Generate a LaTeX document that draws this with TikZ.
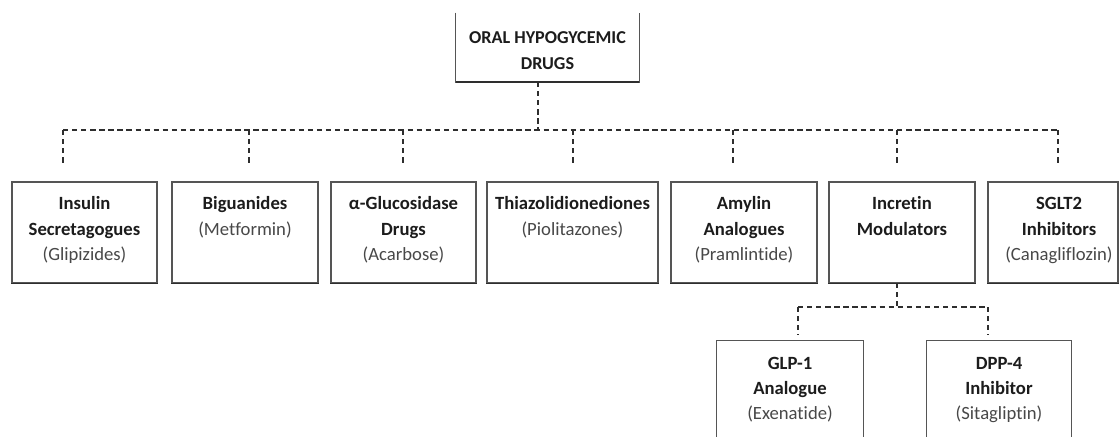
\documentclass[tikz,border=0pt]{standalone}
\usepackage{fontspec}
\setmainfont{Carlito}[Ligatures=NoCommon]
\definecolor{boxc}{HTML}{555555}
\definecolor{shadc}{HTML}{2E2E2E}
\definecolor{linec}{HTML}{2E2E2E}
\definecolor{boldc}{HTML}{1C1C1C}
\definecolor{regc}{HTML}{484848}
\newcommand{\bl}[1]{\textbf{\color{boldc}#1}}
\newcommand{\rg}[1]{{\color{regc}#1}}
\newcommand{\fst}{\rule{0pt}{11pt}}
\begin{document}
\begin{tikzpicture}[x=0.75pt,y=-0.75pt,
  rowbox/.style={draw=boxc, line width=0.8pt, rectangle, inner sep=0pt, minimum height=101*0.75pt},
  openbox/.style={rectangle, inner sep=0pt},
  lbl/.style={align=center, anchor=north, inner sep=0pt, font=\fontsize{14}{19.1}\selectfont, yshift=-10pt},
  conn/.style={draw=linec, line width=1.1pt, dash pattern=on 4pt off 2.8pt},
  edge/.style={draw=boxc, line width=0.8pt},
  shade/.style={draw=shadc, line width=1.3pt}]
\useasboundingbox (0,0) rectangle (1120,436);
\fill[white] (0,0) rectangle (1120,436);

% top box (open at top)
\node[openbox, minimum width=183*0.75pt, minimum height=69*0.75pt] (top) at (547.5,47.5) {};
\draw[edge] (top.north west) -- (top.south west) -- (top.south east) -- (top.north east);
\draw[shade] (top.south west) -- (top.south east);
\node[lbl, font=\fontsize{13.6}{20}\selectfont, yshift=-1.5pt] (toptxt) at (top.north) {\fst\bl{ORAL HYPOGYCEMIC}\\\bl{DRUGS}};

% row boxes
\node[rowbox, minimum width=145*0.75pt] (b1) at (84.5,232.5) {};
\node[rowbox, minimum width=146*0.75pt] (b2) at (245,232.5) {};
\node[rowbox, minimum width=145*0.75pt] (b3) at (403.5,232.5) {};
\node[rowbox, minimum width=171*0.75pt] (b4) at (572.5,232.5) {};
\node[rowbox, minimum width=146*0.75pt] (b5) at (744,232.5) {};
\node[rowbox, minimum width=146*0.75pt] (b6) at (902,232.5) {};
\node[rowbox, minimum width=130*0.75pt] (b7) at (1053,232.5) {};
\foreach \b in {b1,b2,b3,b4,b5,b6,b7}{\draw[shade] (\b.south west) -- (\b.south east);}

\node[lbl] (t1) at (b1.north) {\fst\bl{Insulin}\\\bl{Secretagogues}\\\rg{(Glipizides)}};
\node[lbl] (t2) at (b2.north) {\fst\bl{Biguanides}\\\rg{(Metformin)}};
\node[lbl] (t3) at (b3.north) {\fst\bl{α-Glucosidase}\\\bl{Drugs}\\\rg{(Acarbose)}};
\node[lbl] (t4) at (b4.north) {\fst\bl{Thiazolidionediones}\\\rg{(Piolitazones)}};
\node[lbl] (t5) at (b5.north) {\fst\bl{Amylin}\\\bl{Analogues}\\\rg{(Pramlintide)}};
\node[lbl] (t6) at (b6.north) {\fst\bl{Incretin}\\\bl{Modulators}};
\node[lbl, xshift=4.5pt] (t7) at (b7.north) {\fst\bl{SGLT2}\\\bl{Inhibitors}\\\rg{(Canagliflozin)}};

% sub boxes (open at bottom)
\node[openbox, minimum width=146*0.75pt, minimum height=100*0.75pt] (g1) at (790,391) {};
\node[openbox, minimum width=144*0.75pt, minimum height=100*0.75pt] (g2) at (999,391) {};
\foreach \b in {g1,g2}{\draw[edge] (\b.south west) -- (\b.north west) -- (\b.north east) -- (\b.south east);}
\node[lbl] (s1) at (g1.north) {\fst\bl{GLP-1}\\\bl{Analogue}\\\rg{(Exenatide)}};
\node[lbl] (s2) at (g2.north) {\fst\bl{DPP-4}\\\bl{Inhibitor}\\\rg{(Sitagliptin)}};

% main connectors
\coordinate (tj) at (538,130);
\coordinate (tb) at (538,82);
\draw[conn] (tb) -- (tj);
\coordinate (busL) at (63,130);
\coordinate (busR) at (1058,130);
\draw[conn] (busL) -- (busR);
\foreach \x/\n in {63/1,249/2,403/3,573/4,733/5,897/6,1058/7}{
  \coordinate (u\n) at (\x,130);
  \coordinate (d\n) at (\x,165);
  \draw[conn] (u\n) -- (d\n);
}

% incretin connectors
\coordinate (ib) at (897,283);
\coordinate (ij) at (897,307);
\draw[conn] (ib) -- (ij);
\coordinate (sL) at (798,307);
\coordinate (sR) at (988,307);
\draw[conn] (sL) -- (sR);
\coordinate (sLd) at (798,335);
\coordinate (sRd) at (988,335);
\draw[conn] (sL) -- (sLd);
\draw[conn] (sR) -- (sRd);
\end{tikzpicture}
\end{document}
